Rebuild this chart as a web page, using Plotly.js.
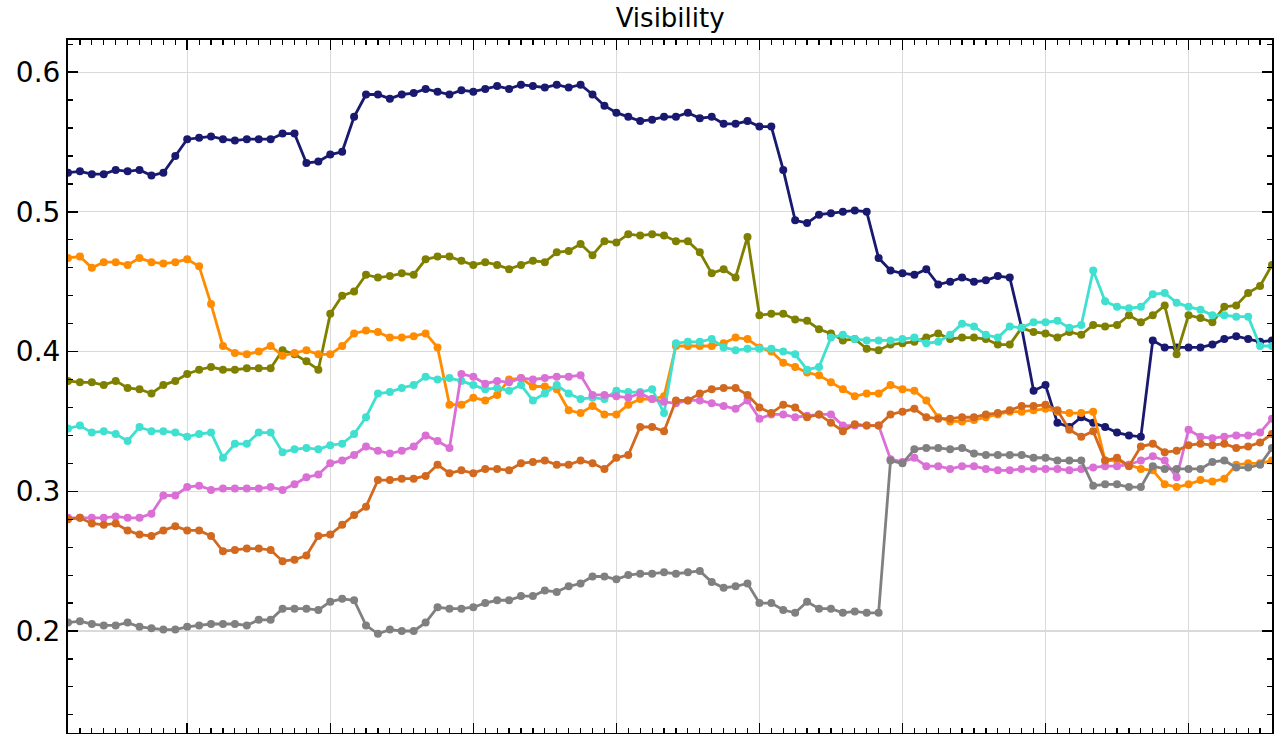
<!DOCTYPE html>
<html>
<head>
<meta charset="utf-8">
<script src="https://cdn.plot.ly/plotly-3.0.1.min.js"></script>
<style>html,body{margin:0;padding:0;background:#fff;}#chart{width:1275px;height:734px;}</style>
</head>
<body>
<div id="chart"></div>
<script>
const navy = [0.528,0.529,0.527,0.527,0.530,0.529,0.530,0.526,0.528,0.540,0.552,0.553,0.554,0.552,0.551,0.552,0.552,0.552,0.556,0.556,0.535,0.536,0.541,0.543,0.568,0.584,0.584,0.581,0.584,0.585,0.588,0.586,0.584,0.587,0.586,0.588,0.590,0.588,0.591,0.590,0.589,0.591,0.589,0.591,0.584,0.576,0.571,0.568,0.565,0.566,0.568,0.568,0.571,0.567,0.568,0.563,0.563,0.565,0.561,0.561,0.530,0.494,0.492,0.498,0.499,0.500,0.501,0.500,0.467,0.458,0.456,0.455,0.459,0.448,0.450,0.453,0.450,0.451,0.454,0.453,0.417,0.372,0.376,0.349,0.346,0.353,0.349,0.346,0.342,0.340,0.339,0.408,0.403,0.403,0.403,0.403,0.405,0.409,0.411,0.409,0.407,0.408];
const olive = [0.379,0.378,0.378,0.376,0.379,0.374,0.373,0.370,0.376,0.379,0.384,0.387,0.389,0.387,0.387,0.388,0.388,0.388,0.401,0.398,0.393,0.387,0.427,0.440,0.443,0.455,0.453,0.454,0.456,0.455,0.466,0.468,0.468,0.465,0.462,0.464,0.462,0.459,0.462,0.465,0.464,0.471,0.472,0.477,0.469,0.479,0.478,0.484,0.483,0.484,0.483,0.479,0.479,0.471,0.456,0.459,0.453,0.482,0.426,0.427,0.427,0.423,0.422,0.416,0.413,0.408,0.409,0.402,0.401,0.405,0.406,0.407,0.410,0.413,0.409,0.410,0.410,0.409,0.405,0.405,0.417,0.414,0.413,0.410,0.414,0.412,0.419,0.418,0.419,0.426,0.421,0.426,0.433,0.398,0.426,0.424,0.421,0.432,0.433,0.442,0.447,0.462];
const orange = [0.467,0.468,0.460,0.464,0.464,0.462,0.467,0.464,0.463,0.464,0.466,0.461,0.434,0.404,0.399,0.398,0.400,0.404,0.397,0.399,0.401,0.398,0.398,0.404,0.413,0.415,0.414,0.410,0.410,0.411,0.413,0.403,0.362,0.362,0.367,0.365,0.369,0.380,0.381,0.375,0.375,0.373,0.358,0.356,0.361,0.355,0.355,0.362,0.366,0.366,0.368,0.404,0.404,0.404,0.404,0.406,0.410,0.409,0.403,0.400,0.392,0.389,0.385,0.383,0.378,0.373,0.368,0.370,0.370,0.376,0.373,0.372,0.365,0.353,0.350,0.350,0.351,0.353,0.355,0.357,0.357,0.358,0.359,0.357,0.356,0.356,0.357,0.322,0.322,0.319,0.316,0.315,0.305,0.303,0.305,0.308,0.307,0.309,0.319,0.320,0.320,0.322];
const turquoise = [0.345,0.347,0.342,0.343,0.341,0.336,0.346,0.343,0.343,0.342,0.339,0.341,0.342,0.324,0.334,0.334,0.342,0.342,0.328,0.330,0.331,0.330,0.333,0.334,0.341,0.353,0.370,0.371,0.374,0.376,0.382,0.380,0.381,0.379,0.376,0.373,0.374,0.372,0.376,0.365,0.370,0.376,0.370,0.366,0.367,0.366,0.372,0.371,0.371,0.373,0.356,0.406,0.407,0.407,0.409,0.403,0.401,0.402,0.402,0.402,0.400,0.398,0.387,0.389,0.410,0.412,0.409,0.408,0.408,0.408,0.409,0.410,0.406,0.407,0.412,0.420,0.418,0.412,0.410,0.418,0.417,0.421,0.421,0.422,0.417,0.419,0.458,0.436,0.432,0.431,0.432,0.441,0.442,0.435,0.432,0.430,0.426,0.426,0.425,0.425,0.404,0.404];
const orchid = [0.281,0.281,0.281,0.281,0.282,0.281,0.281,0.284,0.297,0.297,0.303,0.304,0.301,0.302,0.302,0.302,0.302,0.303,0.301,0.305,0.310,0.312,0.320,0.322,0.326,0.332,0.329,0.327,0.329,0.332,0.340,0.336,0.331,0.384,0.382,0.377,0.379,0.378,0.381,0.380,0.381,0.382,0.382,0.383,0.369,0.369,0.368,0.367,0.370,0.366,0.364,0.363,0.365,0.365,0.363,0.361,0.359,0.365,0.352,0.355,0.355,0.353,0.354,0.355,0.355,0.347,0.347,0.347,0.347,0.323,0.321,0.324,0.318,0.318,0.316,0.318,0.318,0.316,0.315,0.315,0.316,0.316,0.316,0.316,0.315,0.316,0.317,0.318,0.318,0.319,0.322,0.325,0.322,0.310,0.344,0.339,0.338,0.339,0.340,0.340,0.342,0.352];
const chocolate = [0.280,0.281,0.277,0.276,0.277,0.272,0.269,0.268,0.272,0.275,0.272,0.272,0.268,0.257,0.258,0.259,0.259,0.258,0.250,0.251,0.254,0.268,0.269,0.276,0.283,0.289,0.308,0.308,0.309,0.309,0.311,0.319,0.313,0.315,0.313,0.316,0.316,0.315,0.320,0.321,0.322,0.319,0.319,0.322,0.320,0.316,0.324,0.326,0.346,0.346,0.343,0.365,0.365,0.370,0.373,0.374,0.374,0.369,0.360,0.356,0.362,0.360,0.353,0.355,0.349,0.343,0.348,0.347,0.347,0.355,0.357,0.359,0.353,0.352,0.352,0.353,0.353,0.355,0.356,0.358,0.361,0.361,0.362,0.358,0.344,0.339,0.343,0.322,0.324,0.318,0.332,0.334,0.328,0.329,0.333,0.334,0.333,0.334,0.331,0.332,0.335,0.341];
const gray = [0.206,0.207,0.205,0.204,0.204,0.206,0.203,0.202,0.201,0.201,0.203,0.204,0.205,0.205,0.205,0.204,0.208,0.208,0.216,0.216,0.216,0.215,0.221,0.223,0.222,0.204,0.198,0.201,0.200,0.200,0.206,0.217,0.216,0.216,0.217,0.220,0.222,0.222,0.225,0.225,0.229,0.228,0.232,0.234,0.239,0.239,0.237,0.240,0.241,0.241,0.242,0.241,0.242,0.243,0.235,0.231,0.232,0.234,0.220,0.220,0.215,0.213,0.221,0.216,0.216,0.213,0.214,0.213,0.213,0.322,0.320,0.330,0.331,0.331,0.330,0.331,0.327,0.326,0.326,0.326,0.326,0.324,0.324,0.322,0.322,0.322,0.304,0.305,0.305,0.303,0.303,0.318,0.316,0.316,0.316,0.316,0.321,0.322,0.317,0.317,0.319,0.331];

const seriesList = [
  {y: navy, color: '#191970'},
  {y: olive, color: '#808000'},
  {y: orange, color: '#ff8c00'},
  {y: turquoise, color: '#40e0d0'},
  {y: orchid, color: '#da70d6'},
  {y: chocolate, color: '#d2691e'},
  {y: gray, color: '#808080'}
];

const traces = seriesList.map(s => ({
  x: s.y.map((_, i) => i),
  y: s.y,
  type: 'scatter',
  mode: 'lines+markers',
  line: {color: s.color, width: 2.8},
  marker: {color: s.color, size: 8},
  showlegend: false,
  hoverinfo: 'skip'
}));

const layout = {
  width: 1275, height: 734,
  margin: {l: 68, r: 3, t: 40, b: 1, pad: 0},
  paper_bgcolor: '#fff', plot_bgcolor: '#fff',
  font: {family: 'DejaVu Sans', color: '#000', size: 28},
  title: {text: 'Visibility', font: {size: 26, family: 'DejaVu Sans', color: '#000'},
          x: 0.5256, xanchor: 'center', y: 0.975, yanchor: 'middle', yref: 'container'},
  xaxis: {
    range: [0, 101], showticklabels: false,
    tickmode: 'linear', tick0: 10, dtick: 12,
    ticks: 'inside', ticklen: 10, tickwidth: 1.5, tickcolor: '#000',
    showgrid: true, gridcolor: '#dadada', gridwidth: 1.2,
    zeroline: false, showline: true, linecolor: '#000', linewidth: 2, mirror: 'allticks',
    minor: {ticks: 'inside', ticklen: 5, tickwidth: 1.2, tickcolor: '#000', tickmode: 'linear', tick0: 0, dtick: 1, showgrid: false}
  },
  yaxis: {
    range: [0.127, 0.623],
    tickmode: 'linear', tick0: 0, dtick: 0.1, tickformat: '.1f',
    ticks: 'inside', ticklen: 10, tickwidth: 1.5, tickcolor: '#000',
    tickfont: {size: 28, family: 'DejaVu Sans', color: '#000'},
    showgrid: true, gridcolor: '#dadada', gridwidth: 1.2,
    zeroline: false, showline: true, linecolor: '#000', linewidth: 2, mirror: 'allticks',
    minor: {ticks: 'inside', ticklen: 5, tickwidth: 1.2, tickcolor: '#000', tickmode: 'linear', tick0: 0, dtick: 0.02, showgrid: false}
  }
};

Plotly.newPlot('chart', traces, layout, {displayModeBar: false, staticPlot: true});
</script>
</body>
</html>
